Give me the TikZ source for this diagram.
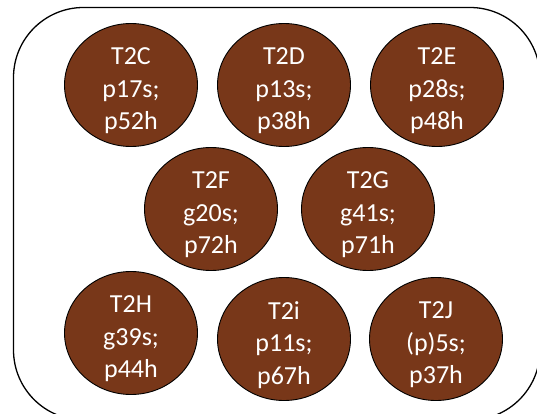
\documentclass[tikz,border=0pt]{standalone}
\usepackage{fontspec}
\setmainfont{Carlito}
\usetikzlibrary{shapes.geometric}
\definecolor{tubebrown}{RGB}{120,55,25}
\tikzset{
  tube/.style={ellipse, draw=black, line width=0.9pt, fill=tubebrown,
    minimum width=133pt, minimum height=123pt, inner sep=0pt},
  tubetext/.style={text=white, align=center, inner sep=0pt,
    font=\fontsize{26pt}{32.5pt}\selectfont},
  frame/.style={draw=black, line width=1.3pt, rounded corners=70pt}
}
\begin{document}
\begin{tikzpicture}[x=1pt, y=-1pt]
  \useasboundingbox (0,0) rectangle (537,414);
  % outer rounded enclosure
  \draw[frame] (13.5,7.5) rectangle (540,420);
  % tubes: top row
  \node[tube] (t2c) at (131,85) {};
  \node[tube] (t2d) at (284,85) {};
  \node[tube] (t2e) at (437,85) {};
  % middle row
  \node[tube] (t2f) at (211,209) {};
  \node[tube] (t2g) at (368,209) {};
  % bottom row
  \node[tube] (t2h) at (131,333) {};
  \node[tube] (t2i) at (284,339) {};
  \node[tube] (t2j) at (436,339) {};
  % labels, set slightly below each tube's centre
  \foreach \n/\txt in {t2c/{T2C\\p17s;\\p52h}, t2d/{T2D\\p13s;\\p38h},
      t2e/{T2E\\p28s;\\p48h}, t2f/{T2F\\g20s;\\p72h}, t2g/{T2G\\g41s;\\p71h},
      t2h/{T2H\\g39s;\\p44h}, t2i/{T2i\\p11s;\\p67h}, t2j/{T2J\\(p)5s;\\p37h}}
    \node[tubetext] (\n-label) at ([yshift=-6pt]\n.center) {\txt};
\end{tikzpicture}
\end{document}
